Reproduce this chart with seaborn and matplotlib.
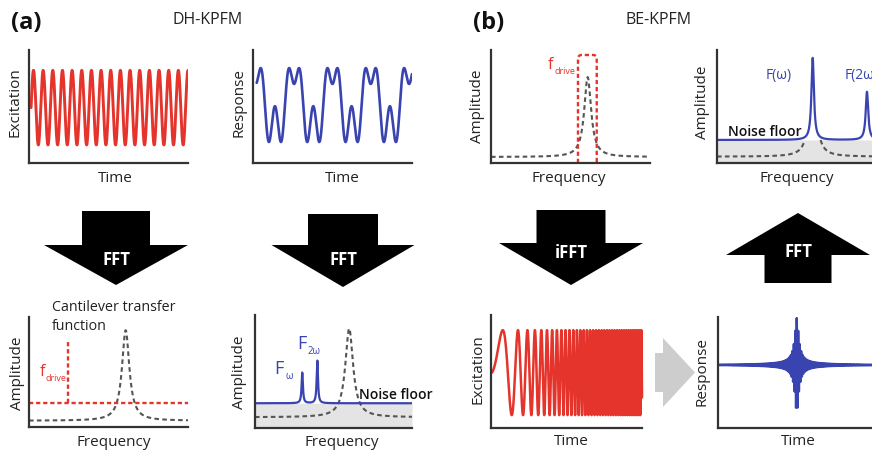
import numpy as np
import matplotlib
matplotlib.use("Agg")
import matplotlib.pyplot as plt
import seaborn as sns
from matplotlib.patches import Polygon

sns.set_theme(style="white")
plt.rcParams['font.family'] = ['Open Sans', 'DejaVu Sans']

RED = '#e4342b'
BLUE = '#3a44b0'
DGRAY = '#555555'
FILL = '#e4e4e4'
AXC = '#333333'
TXT = '#222222'

# ------------------------------------------------------------------ data
# (all values in normalised units: x 0..1 along each axis, y 0..1 along each axis)
panel_letters = ["(a)", "(b)"]
panel_titles = ["DH-KPFM", "BE-KPFM"]
x_labels = ["Time", "Time", "Frequency", "Frequency", "Frequency", "Frequency", "Time", "Time"]
y_labels = ["Excitation", "Response", "Amplitude", "Amplitude", "Amplitude", "Amplitude", "Excitation", "Response"]
arrow_labels = ["FFT", "FFT", "iFFT", "FFT"]

# DH excitation (single sine)
exc_span = [0.013, 1.0]
exc_center, exc_amp, exc_cycles = 0.49, 0.33, 16.25
# DH response (harmonic content cos t, cos 2t, cos 3t)
resp_span = [0.023, 1.0]
resp_range = [0.186, 0.84]
resp_period, resp_phase0 = 0.241, 0.138
resp_harmonics = [-0.60, 0.16, 0.38]

# BE drive window: cantilever transfer function + band
be_tf = dict(base=0.053, peak=0.76, center=0.608, gamma=0.026)
be_band = dict(left=0.547, right=0.665, top=0.956)

# BE response spectrum
be_floor = 0.204
be_tf2 = dict(base=0.056, peak=0.76, center=0.587, gamma=0.025)
be_peak_pos = [0.587, 0.92]
be_peak_top = [0.93, 0.63]
be_peak_gamma = 0.0092
be_peak_names = ["F(ω)", "F(2ω)"]

# DH drive spectrum
dh_tf = dict(base=0.057, peak=0.88, center=0.608, gamma=0.028)
dh_drive_level, dh_drive_pos, dh_drive_top = 0.215, 0.243, 0.775

# DH response spectrum
dh_floor = 0.219
dh_tf2 = dict(base=0.095, peak=0.88, center=0.60, gamma=0.030)
dh_peak_pos = [0.301, 0.397]
dh_peak_top = [0.49, 0.596]
dh_peak_gamma = 0.005
dh_peak_subs = ["ω", "2ω"]

# BE chirp excitation
chirp_span = [0.007, 1.007]
chirp_center, chirp_amp = 0.49, 0.376
chirp_coeffs = [0.891, 37.23]      # cycles(u) = a*u + b*u^2

# BE response burst
burst_base, burst_center = 0.568, 0.486
burst_amps = [0.306, 0.099, 0.018]
burst_gammas = [0.0123, 0.031, 0.185]
burst_cycles = 110

# ------------------------------------------------------------------ layout
W, H = 872, 450
frames = [(29, 188, 50, 163), (253, 412, 50, 163), (491, 650, 50, 163), (717, 880, 50, 163),
          (29, 188, 317, 427), (255, 412, 315, 428), (491, 642, 315, 428), (718, 880, 317, 428)]
xlab_pos = [(0.54, -0.133), (0.563, -0.133), (0.49, -0.133), (0.49, -0.133),
            (0.53, -0.143), (0.55, -0.13), (0.533, -0.121), (0.494, -0.123)]
ylab_pos = [(-0.088, 0.54), (-0.091, 0.535), (-0.085, 0.5), (-0.086, 0.54),
            (-0.075, 0.49), (-0.096, 0.49), (-0.089, 0.52), (-0.096, 0.51)]

fig = plt.figure(figsize=(W / 100, H / 100), dpi=100)

# overlay for arrows / titles
ov = fig.add_axes([0, 0, 1, 1], zorder=0)
ov.set_xlim(0, W)
ov.set_ylim(H, 0)
ov.axis('off')

axes = []
for i, (x0, x1, yt, yb) in enumerate(frames):
    ax = fig.add_axes([x0 / W, 1 - yb / H, (x1 - x0) / W, (yb - yt) / H], zorder=1)
    ax.set_facecolor('none')
    ax.set_xlim(0, 1)
    ax.set_ylim(0, 1)
    ax.set_xticks([])
    ax.set_yticks([])
    for s in ['top', 'right']:
        ax.spines[s].set_visible(False)
    for s in ['left', 'bottom']:
        ax.spines[s].set_color(AXC)
        ax.spines[s].set_linewidth(1.6)
        ax.spines[s].set_zorder(5)
    ax.text(*xlab_pos[i], x_labels[i], transform=ax.transAxes, ha='center', va='center',
            fontsize=11, color=TXT)
    ax.text(*ylab_pos[i], y_labels[i], transform=ax.transAxes, ha='center', va='center',
            fontsize=11, color=TXT, rotation=90)
    axes.append(ax)


def lor(x, c, g):
    return 1.0 / (1.0 + ((x - c) / g) ** 2)


def tf_curve(u, p):
    return p['base'] + (p['peak'] - p['base']) * lor(u, p['center'], p['gamma'])


def sub_label(ax, x, y, main, sub, color, size, subsize, dx, dy):
    """main text centred at (x, y) in axes fraction, subscript offset in points."""
    t = ax.text(x, y, main, color=color, fontsize=size, ha='left', va='center', transform=ax.transAxes)
    ax.annotate(sub, xy=(x, y), xycoords='axes fraction', xytext=(dx, dy), textcoords='offset points',
                color=color, fontsize=subsize, ha='left', va='center')
    return t


DASH = (0, (2.2, 1.6))
RDASH = (0, (1.8, 1.2))

# ---- P1: DH excitation
ax = axes[0]
u = np.linspace(exc_span[0], exc_span[1], 3000)
y = exc_center + exc_amp * np.sin(2 * np.pi * exc_cycles * (u - u[0]) / (u[-1] - u[0]))
sns.lineplot(x=u, y=y, ax=ax, color=RED, linewidth=2.1, estimator=None, sort=False)

# ---- P2: DH response
ax = axes[1]
u = np.linspace(resp_span[0], resp_span[1], 3000)
t = 2 * np.pi * (u - resp_phase0) / resp_period
f = sum(c * np.cos((k + 1) * t) for k, c in enumerate(resp_harmonics))
f = (f - f.min()) / (f.max() - f.min()) * (resp_range[1] - resp_range[0]) + resp_range[0]
sns.lineplot(x=u, y=f, ax=ax, color=BLUE, linewidth=1.9, estimator=None, sort=False)

# ---- P3: BE drive band
ax = axes[2]
u = np.linspace(0.0, 1.0, 3000)
sns.lineplot(x=u, y=tf_curve(u, be_tf), ax=ax, color=DGRAY, linewidth=1.5, estimator=None, sort=False)
ax.lines[-1].set_linestyle(DASH)
rx, ry = 0.022, 0.03
ang = np.linspace(np.pi, np.pi / 2, 12)
left_c = (be_band['left'] + rx, be_band['top'] - ry)
right_c = (be_band['right'] - rx, be_band['top'] - ry)
ang2 = np.linspace(np.pi / 2, 0, 12)
bx = np.concatenate([[be_band['left']], left_c[0] + rx * np.cos(ang), right_c[0] + rx * np.cos(ang2),
                     [be_band['right']]])
by = np.concatenate([[0.0], left_c[1] + ry * np.sin(ang), right_c[1] + ry * np.sin(ang2), [0.0]])
ax.plot(bx, by, color=RED, linewidth=1.7, linestyle=RDASH)
sub_label(ax, 0.36, 0.87, "f", "drive", RED, 11.5, 6.5, 4.2, -4.8)

# ---- P4: BE response spectrum
ax = axes[3]
u = np.linspace(0.0, 1.0, 6000)
ax.fill_between(u, 0, be_floor, color=FILL, linewidth=0)
tf2 = tf_curve(u, be_tf2)
tf2 = np.where(tf2 <= be_floor, tf2, np.nan)
ax.plot(u, tf2, color=DGRAY, linewidth=1.5, linestyle=DASH)
spec = be_floor + sum((top - be_floor) * lor(u, c, be_peak_gamma) for c, top in zip(be_peak_pos, be_peak_top))
sns.lineplot(x=u, y=spec, ax=ax, color=BLUE, linewidth=1.6, estimator=None, sort=False)
ax.text(0.067, 0.274, "Noise floor", fontsize=10, color='#111111', fontweight='semibold',
        ha='left', va='center', transform=ax.transAxes)
ax.text(0.30, 0.77, be_peak_names[0], fontsize=10, color=BLUE, ha='left', va='center', transform=ax.transAxes)
ax.text(0.785, 0.77, be_peak_names[1], fontsize=10, color=BLUE, ha='left', va='center', transform=ax.transAxes)

# ---- P5: DH drive spectrum
ax = axes[4]
u = np.linspace(0.0, 1.0, 3000)
sns.lineplot(x=u, y=tf_curve(u, dh_tf), ax=ax, color=DGRAY, linewidth=1.5, estimator=None, sort=False)
ax.lines[-1].set_linestyle(DASH)
ax.plot([0, 1], [dh_drive_level, dh_drive_level], color=RED, linewidth=1.7, linestyle=RDASH)
ax.plot([dh_drive_pos, dh_drive_pos], [dh_drive_level, dh_drive_top], color=RED, linewidth=1.7,
        linestyle=RDASH)
sub_label(ax, 0.07, 0.50, "f", "drive", RED, 11.5, 6.5, 4.2, -4.8)
ax.text(0.143, 1.0, "Cantilever transfer\nfunction", fontsize=10.3, color=TXT, ha='left', va='center',
        linespacing=1.3, transform=ax.transAxes)

# ---- P6: DH response spectrum
ax = axes[5]
u = np.linspace(0.0, 1.0, 6000)
ax.fill_between(u, 0, dh_floor, color=FILL, linewidth=0)
sns.lineplot(x=u, y=tf_curve(u, dh_tf2), ax=ax, color=DGRAY, linewidth=1.5, estimator=None, sort=False)
ax.lines[-1].set_linestyle(DASH)
spec = dh_floor + sum((top - dh_floor) * lor(u, c, dh_peak_gamma) for c, top in zip(dh_peak_pos, dh_peak_top))
sns.lineplot(x=u, y=spec, ax=ax, color=BLUE, linewidth=1.6, estimator=None, sort=False)
ax.text(0.662, 0.292, "Noise floor", fontsize=10, color='#111111', fontweight='semibold',
        ha='left', va='center', transform=ax.transAxes)
sub_label(ax, 0.124, 0.518, "F", dh_peak_subs[0], BLUE, 13, 7, 7.6, -5.0)
sub_label(ax, 0.268, 0.74, "F", dh_peak_subs[1], BLUE, 13, 7, 7.6, -5.0)

# ---- P7: BE chirp excitation
ax = axes[6]
u = np.linspace(chirp_span[0], chirp_span[1], 20000)
s = u - u[0]
cyc = chirp_coeffs[0] * s + chirp_coeffs[1] * s ** 2
y = chirp_center + chirp_amp * np.sin(2 * np.pi * cyc)
sns.lineplot(x=u, y=y, ax=ax, color=RED, linewidth=1.8, estimator=None, sort=False)
for ln in ax.lines:
    ln.set_clip_on(False)

# ---- P8: BE response burst
ax = axes[7]
u = np.linspace(0.0, 1.0, 12000)
env = sum(a * lor(u, burst_center, g) for a, g in zip(burst_amps, burst_gammas))
y = burst_base + env * np.cos(2 * np.pi * burst_cycles * (u - burst_center))
sns.lineplot(x=u, y=y, ax=ax, color=BLUE, linewidth=1.7, estimator=None, sort=False)

# ---- overlay: titles, letters, arrows
ov.text(26, 23, panel_letters[0], fontsize=17, fontweight='bold', ha='center', va='center', color='#111111')
ov.text(489, 23, panel_letters[1], fontsize=17, fontweight='bold', ha='center', va='center', color='#111111')
ov.text(208, 20, panel_titles[0], fontsize=11.5, ha='center', va='center', color=TXT)
ov.text(659, 20, panel_titles[1], fontsize=11.5, ha='center', va='center', color=TXT)

arrow_specs = [  # cx, shaft half width, shaft end, head half width, head base, tip, text y
    (116, 34, 211, 72, 245, 285, 260),
    (343, 35, 214, 71.5, 245, 287, 260),
    (571, 34.5, 210, 72, 243, 285, 253),
    (798, 33.5, 283, 72, 255, 213, 252),
]
for (cx, sh, se, hh, hb, tip, ty), lab in zip(arrow_specs, arrow_labels):
    pts = [(cx - sh, se), (cx + sh, se), (cx + sh, hb), (cx + hh, hb), (cx, tip),
           (cx - hh, hb), (cx - sh, hb)]
    ov.add_patch(Polygon(pts, closed=True, facecolor='black', edgecolor='none'))
    ov.text(cx, ty, lab, color='white', fontsize=12, fontweight='bold', ha='center', va='center')

gray_arrow = [(655, 353), (663, 353), (663, 338), (695, 372.5), (663, 407), (663, 392), (655, 392)]
ov.add_patch(Polygon(gray_arrow, closed=True, facecolor='#cdcdcd', edgecolor='none'))

fig.savefig("out.png", dpi=100)
